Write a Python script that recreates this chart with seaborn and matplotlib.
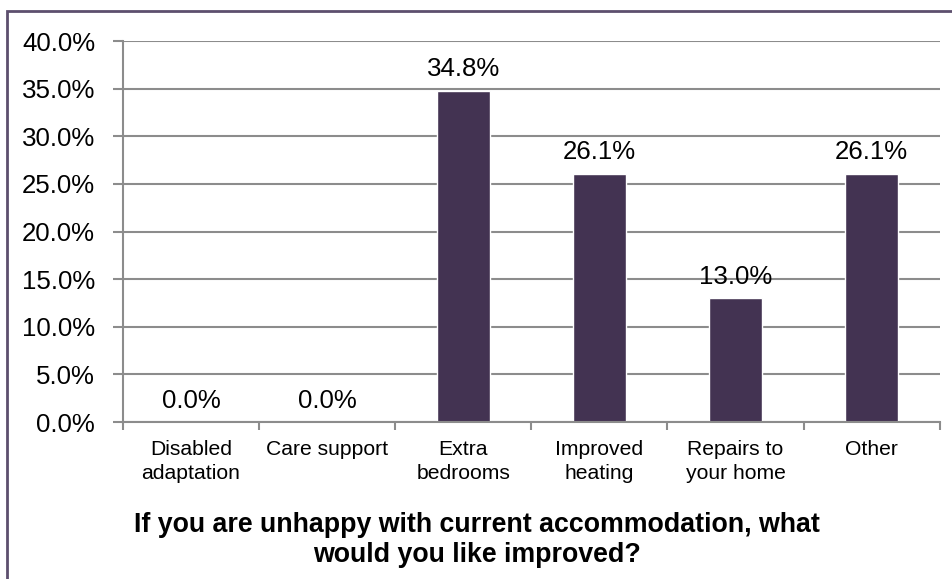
import pandas as pd
import matplotlib
matplotlib.use("Agg")
import matplotlib.pyplot as plt
from matplotlib.patches import Rectangle
from matplotlib.ticker import FixedLocator, PercentFormatter
import seaborn as sns

# Dati
categories = ["Disabled\nadaptation", "Care support", "Extra\nbedrooms",
              "Improved\nheating", "Repairs to\nyour home", "Other"]
values = [0.0, 0.0, 34.8, 26.1, 13.0, 26.1]
yticks = [0, 5, 10, 15, 20, 25, 30, 35, 40]
title = "If you are unhappy with current accommodation, what\nwould you like improved?"

df = pd.DataFrame({"Category": categories, "Percent": values})

sns.set_style("white")
plt.rcParams["font.family"] = ["Liberation Sans", "DejaVu Sans"]
plt.rcParams["text.color"] = "black"

fig = plt.figure(figsize=(9.53, 5.79), dpi=100)
ax = fig.add_axes([0.129, 0.271, 0.857, 0.658])

sns.barplot(data=df, x="Category", y="Percent", color="#433352",
            width=0.39, saturation=1, ax=ax)

grid_col = "#8c8c8c"
ax.set_ylim(0, 40)
ax.set_yticks(yticks)
ax.yaxis.set_major_formatter(PercentFormatter(decimals=1))
ax.yaxis.grid(True, color=grid_col, linewidth=1.5)
ax.set_axisbelow(True)
ax.set_xlim(-0.5, len(categories) - 0.5)

for side in ["top", "right"]:
    ax.spines[side].set_visible(False)
for side in ["left", "bottom"]:
    ax.spines[side].set_color(grid_col)
    ax.spines[side].set_linewidth(1.5)

ax.tick_params(axis="y", labelsize=18.6, length=7, width=1.5, color=grid_col,
               labelcolor="black", left=True, pad=13)
ax.tick_params(axis="x", which="major", labelsize=15.2, length=0, pad=13,
               labelcolor="black")
ax.xaxis.set_minor_locator(FixedLocator([i - 0.5 for i in range(len(categories) + 1)]))
ax.tick_params(axis="x", which="minor", length=6, width=1.5, color=grid_col, bottom=True)
for lbl in ax.get_xticklabels():
    lbl.set_linespacing(1.3)

# Etichette dei valori
for i, v in enumerate(values):
    ax.text(i, v + 1.0, f"{v:.1f}%", ha="center", va="bottom", fontsize=18.6,
            color="black")

ax.set_ylabel("")
ax.set_xlabel("")
fig.text(0.5, 1 - 540 / 579, title, ha="center", va="center", fontsize=19.3,
         fontweight="bold", linespacing=1.15, color="black")

# Bordo della figura (solo in alto e a sinistra visibile)
fig.patches.append(Rectangle((7 / 953, -0.05), 1.0, 1.05 - 11 / 579,
                             transform=fig.transFigure, fill=False,
                             edgecolor="#5d4f6e", linewidth=2))

plt.savefig("out.png", dpi=100)
